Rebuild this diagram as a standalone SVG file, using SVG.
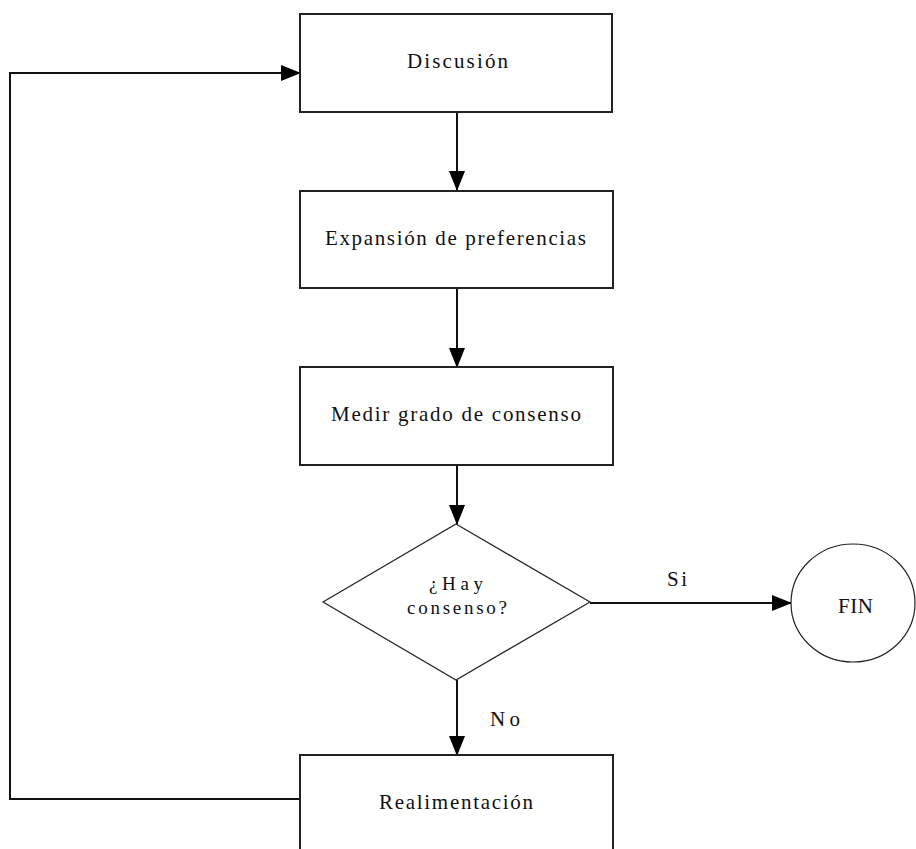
<svg xmlns="http://www.w3.org/2000/svg" width="916" height="849" viewBox="0 0 916 849">
  <defs>
    <marker id="arrow" markerUnits="userSpaceOnUse" markerWidth="20" markerHeight="16" refX="20" refY="8" orient="auto">
      <path d="M0,0 L20,8 L0,16 Z" fill="#000"/>
    </marker>
    <style>
      .box { fill: #fff; stroke: #222; stroke-width: 2; }
      .thin { fill: #fff; stroke: #222; stroke-width: 1.2; }
      .edge { fill: none; stroke: #111; stroke-width: 2; }
      .lbl { font-family: "Liberation Serif", "Times New Roman", serif; font-size: 21px; fill: #111; }
      .small { font-size: 19px; }
    </style>
  </defs>
  <rect width="916" height="849" fill="#fff"/>

  <g id="connectors">
    <line class="edge" x1="457" y1="112" x2="457" y2="191" marker-end="url(#arrow)"/>
    <line class="edge" x1="457" y1="288" x2="457" y2="368" marker-end="url(#arrow)"/>
    <line class="edge" x1="457" y1="465" x2="457" y2="525" marker-end="url(#arrow)"/>
    <line class="edge" x1="457" y1="680" x2="457" y2="756" marker-end="url(#arrow)"/>
    <line class="edge" x1="590" y1="603" x2="792" y2="603" marker-end="url(#arrow)"/>
    <polyline class="edge" points="300,799 10,799 10,73 301,73" marker-end="url(#arrow)"/>
    <text class="lbl" x="677" y="586" text-anchor="middle" textLength="20" lengthAdjust="spacing">Si</text>
    <text class="lbl" x="505" y="726" text-anchor="middle" textLength="30" lengthAdjust="spacing">No</text>
  </g>

  <g id="discusion">
    <rect class="box" x="300" y="14" width="312" height="98"/>
    <text class="lbl" x="457.5" y="68" text-anchor="middle" textLength="101" lengthAdjust="spacing">Discusión</text>
  </g>

  <g id="expansion">
    <rect class="box" x="300" y="191" width="313" height="97"/>
    <text class="lbl" x="455.5" y="245" text-anchor="middle" textLength="261" lengthAdjust="spacing">Expansión de preferencias</text>
  </g>

  <g id="medir">
    <rect class="box" x="300" y="367" width="313" height="98"/>
    <text class="lbl" x="456" y="421" text-anchor="middle" textLength="250" lengthAdjust="spacing">Medir grado de consenso</text>
  </g>

  <g id="consenso">
    <polygon class="thin" points="456,524 590,602 456,680 323,602"/>
    <text class="lbl small" x="456" y="590" text-anchor="middle" textLength="54" lengthAdjust="spacing">¿Hay</text>
    <text class="lbl small" x="457" y="614" text-anchor="middle" textLength="100" lengthAdjust="spacing">consenso?</text>
  </g>

  <g id="fin">
    <ellipse class="thin" cx="853" cy="603" rx="62" ry="59"/>
    <text class="lbl" x="855.5" y="613" text-anchor="middle" textLength="35" lengthAdjust="spacing">FIN</text>
  </g>

  <g id="realimentacion">
    <rect class="box" x="300" y="755" width="313" height="100"/>
    <text class="lbl" x="456" y="809" text-anchor="middle" textLength="154" lengthAdjust="spacing">Realimentación</text>
  </g>
</svg>
